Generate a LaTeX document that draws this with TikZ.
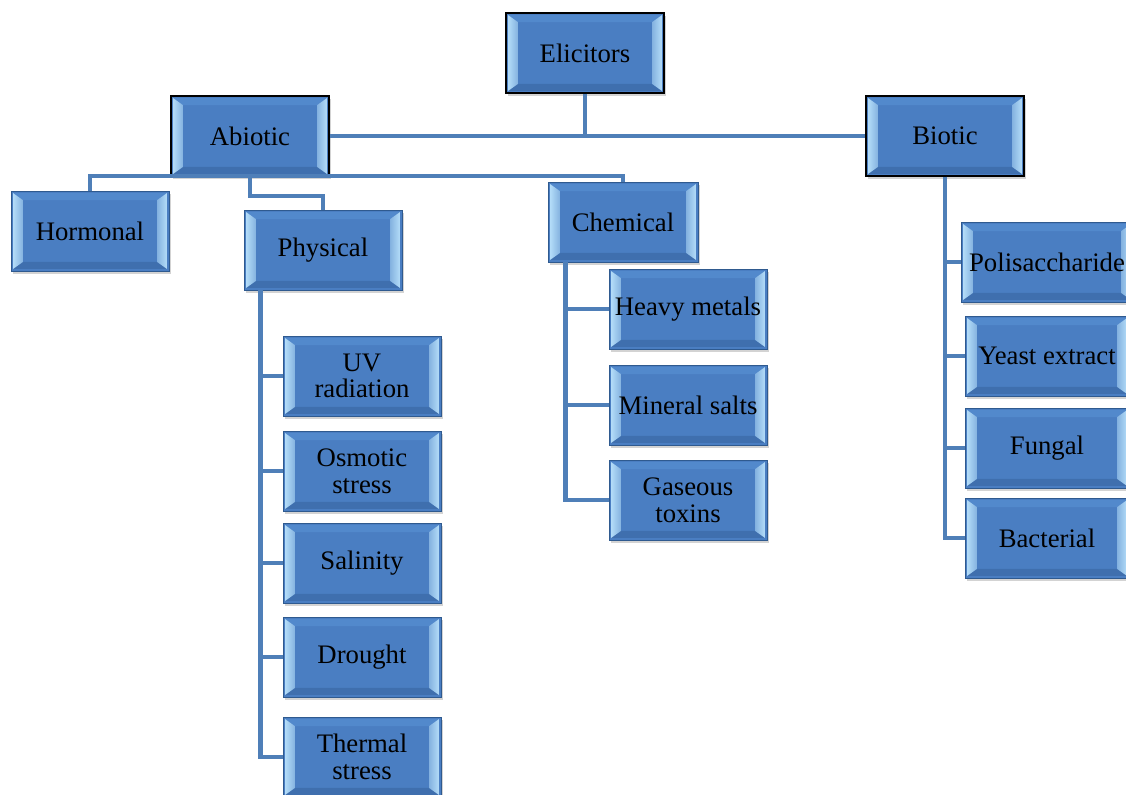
\documentclass[tikz,border=0pt]{standalone}
\usepackage{fontspec}
\setmainfont{Liberation Serif}
\usetikzlibrary{shadows}
\definecolor{BoxFace}{HTML}{4A7EC2}
\definecolor{BoxEdge}{HTML}{2F5A8F}
\definecolor{BevelLight}{HTML}{B3DCF8}
\definecolor{BevelTop}{HTML}{5289CC}
\definecolor{BevelLow}{HTML}{3F6FAE}
\definecolor{LinkBlue}{HTML}{4F7FB8}

\begin{document}
\begin{tikzpicture}[x=0.025cm,y=-0.025cm,
      font=\fontsize{19}{19}\selectfont,
      box/.style={rectangle,fill=BoxFace,draw=BoxEdge,line width=0.6pt,
                  minimum width=3.95cm,minimum height=2cm,inner sep=0pt,
                  align=center,
                  drop shadow={opacity=0.35,shadow xshift=1.5pt,shadow yshift=-2pt},
                  path picture={
                    \coordinate (nw) at ([shift={(1.5pt,-1.5pt)}]path picture bounding box.north west);
                    \coordinate (ne) at ([shift={(-1.5pt,-1.5pt)}]path picture bounding box.north east);
                    \coordinate (sw) at ([shift={(1.5pt,1.5pt)}]path picture bounding box.south west);
                    \coordinate (se) at ([shift={(-1.5pt,1.5pt)}]path picture bounding box.south east);
                    \fill[BevelTop] (nw) -- (ne) -- ([shift={(-7pt,-5pt)}]ne)
                      -- ([shift={(7pt,-5pt)}]nw) -- cycle;
                    \fill[BevelLow] (sw) -- (se) -- ([shift={(-7pt,5pt)}]se)
                      -- ([shift={(7pt,5pt)}]sw) -- cycle;
                    \shade[left color=BevelLight,right color=BevelLight!55!BoxFace]
                      (nw) -- ([shift={(7pt,-5pt)}]nw) -- ([shift={(7pt,5pt)}]sw)
                      -- (sw) -- cycle;
                    \shade[left color=BevelLight!55!BoxFace,right color=BevelLight]
                      (ne) -- ([shift={(-7pt,-5pt)}]ne) -- ([shift={(-7pt,5pt)}]se)
                      -- (se) -- cycle;
                  }},
      topbox/.style={box,draw=black,line width=1.4pt},
      link/.style={draw=LinkBlue,line width=3.5pt}]
    \useasboundingbox (0,0) rectangle (1126,795);

    % Root and the two main groups
    \node[topbox] (elicitors) at (585,53) {Elicitors};
    \node[topbox] (abiotic) at (250,136) {Abiotic};
    \node[topbox] (biotic) at (945,136) {Biotic};

    % Abiotic sub-groups
    \node[box] (hormonal) at (90,231) {Hormonal};
    \node[box] (physical) at (323,250) {Physical};
    \node[box,minimum width=3.75cm] (chemical) at (623,222) {Chemical};

    % Leaves of each sub-group
    \foreach \name/\y/\txt in {uv/376/{UV\\radiation},osmotic/471/{Osmotic\\stress},
        salinity/563/Salinity,drought/657/Drought,thermal/757/{Thermal\\stress}}{%
      \node[box] (\name) at (362,\y) {\txt};
    }
    \foreach \name/\y/\txt in {metals/309/Heavy metals,salts/405/Mineral salts,
        toxins/500/{Gaseous\\toxins}}{%
      \node[box] (\name) at (688,\y) {\txt};
    }
    \node[box,minimum width=4.3cm] (polisaccharide) at (1047,262) {Polisaccharide};
    \foreach \name/\y/\txt in {yeast/356/Yeast extract,fungal/448/Fungal,
        bacterial/538/Bacterial}{%
      \node[box,minimum width=4.1cm] (\name) at (1047,\y) {\txt};
    }

    % Connectors
    \draw[link] (elicitors.south) -- (elicitors.south |- abiotic.east);
    \draw[link] (abiotic.east) -- (biotic.west);
    \coordinate (abus) at (250,176);
    \draw[link] (hormonal.north) |- (abus) -| (chemical.north);
    \coordinate (pbus) at (250,196);
    \draw[link] (abiotic.south) -- (pbus) -| (physical.north);
    \foreach \name in {uv,osmotic,salinity,drought,thermal}{%
      \draw[link] ([xshift=0.42cm]physical.south west) |- (\name.west);
    }
    \foreach \name in {metals,salts,toxins}{%
      \draw[link] ([xshift=0.45cm]chemical.south west) |- (\name.west);
    }
    \foreach \name in {polisaccharide,yeast,fungal,bacterial}{%
      \draw[link] (biotic.south) |- (\name.west);
    }
  \end{tikzpicture}
\end{document}
